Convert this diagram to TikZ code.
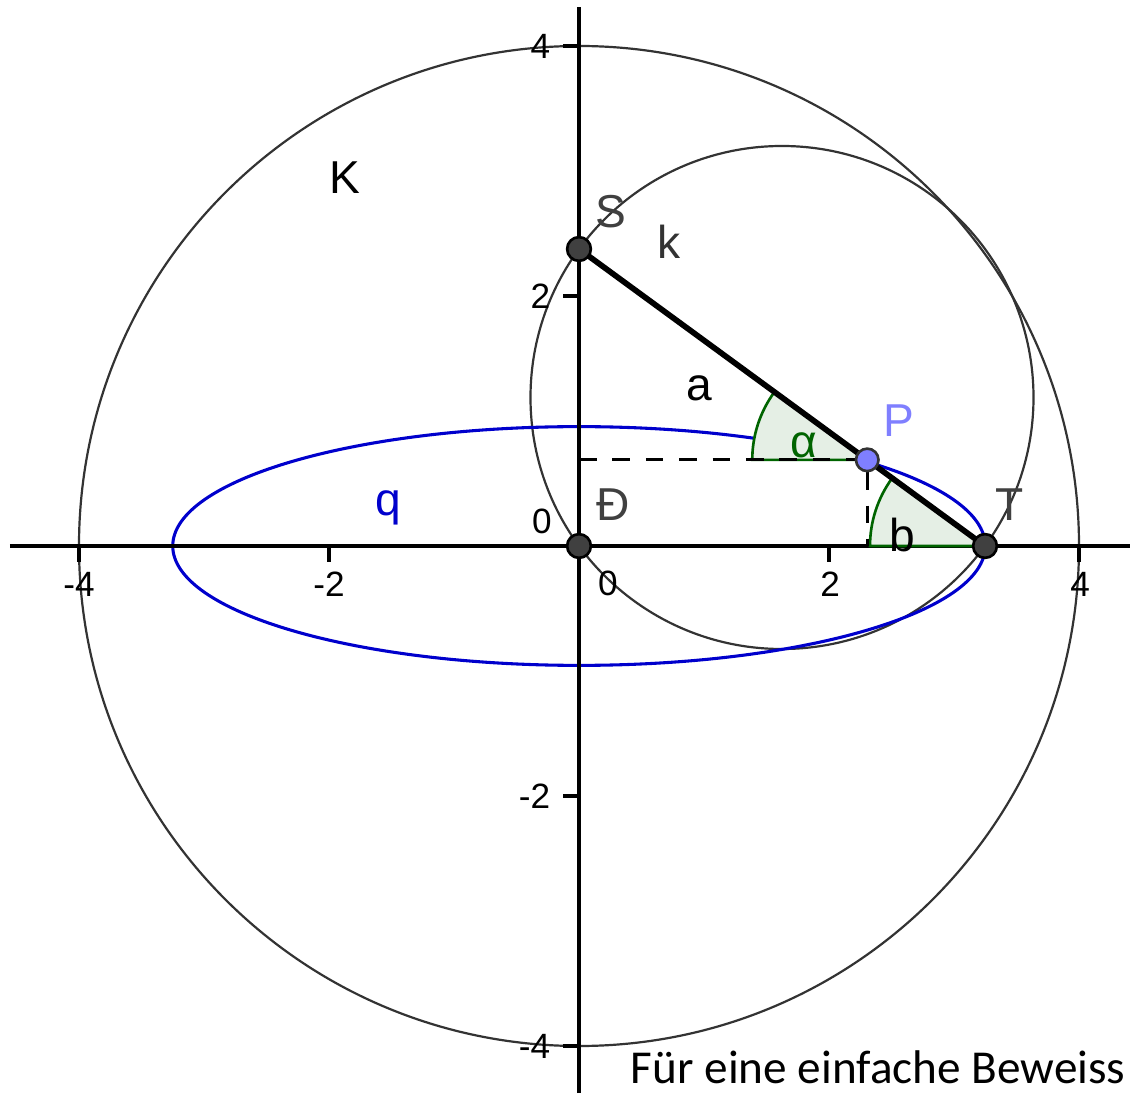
\documentclass[tikz,border=0pt]{standalone}
\usepackage{fontspec}
\setmainfont{Liberation Sans}
\newfontfamily\capfont{Carlito}
\usetikzlibrary{arrows, positioning}
\definecolor{qblue}{RGB}{0,0,204}
\definecolor{pblue}{RGB}{127,127,255}
\definecolor{anggreen}{RGB}{0,100,0}
\definecolor{angfill}{RGB}{229,239,229}
\definecolor{ptgrey}{RGB}{64,64,64}

\begin{document}
\begin{tikzpicture}[
    pt/.style={circle, draw=black, fill=ptgrey, line width=0.6pt, minimum size=0.19cm, inner sep=0pt},
    lbl/.style={inner sep=0pt, font=\fontsize{10.5}{12}\selectfont},
    ticklbl/.style={inner sep=0pt, font=\fontsize{8}{9}\selectfont},
    circ/.style={draw=black!80, line width=0.5pt},
    ang/.style={draw=anggreen, fill=angfill, line width=0.6pt},
    axis/.style={line width=0.9pt},
    tick/.style={line width=0.8pt}
]
    \useasboundingbox (-4.632,-4.376) rectangle (4.408,4.368);

    % Points of the ladder
    \coordinate (O) at (0, 0);
    \coordinate (S) at (0, 2.376);
    \coordinate (T) at (3.248, 0);
    \coordinate (P) at (2.306, 0.689);
    \coordinate (Py) at (0, 0.689);
    \coordinate (Px) at (2.306, 0);

    % Circles K and k
    \draw[circ] (O) circle (4);
    \draw[circ] (1.624, 1.188) circle (2.012);

    % Ellipse q
    \draw[qblue, line width=0.7pt] (O) ellipse (3.25 and 0.955);

    % Axes
    \coordinate (xl) at (-4.552, 0);
    \coordinate (xr) at (4.408, 0);
    \coordinate (yb) at (0, -4.376);
    \coordinate (yt) at (0, 4.312);
    \draw[axis] (xl) -- (xr);
    \draw[axis] (yb) -- (yt);

    \draw[tick] (-4, 0) -- (-4, -0.13);
    \draw[tick] (-2, 0) -- (-2, -0.13);
    \draw[tick] (2, 0) -- (2, -0.13);
    \draw[tick] (4, 0) -- (4, -0.13);
    \draw[tick] (0, -4) -- (-0.13, -4);
    \draw[tick] (0, -2) -- (-0.13, -2);
    \draw[tick] (0, 2) -- (-0.13, 2);
    \draw[tick] (0, 4) -- (-0.13, 4);

    \node[ticklbl, anchor=north] (xm4) at (-4, -0.2) {-4};
    \node[ticklbl, anchor=north] (xm2) at (-2, -0.2) {-2};
    \node[ticklbl, anchor=north] (x2) at (2.01, -0.2) {2};
    \node[ticklbl, anchor=north] (x4) at (4.01, -0.2) {4};
    \node[ticklbl, anchor=east] (ym4) at (-0.224, -4) {-4};
    \node[ticklbl, anchor=east] (ym2) at (-0.224, -2) {-2};
    \node[ticklbl, anchor=east] (y2) at (-0.224, 2) {2};
    \node[ticklbl, anchor=east] (y4) at (-0.224, 4) {4};
    \node[ticklbl] (y0) at (-0.296, 0.2) {0};
    \node[ticklbl] (x0) at (0.232, -0.296) {0};

    % Angles
    \draw[ang] (P) -- ++(180:0.92) arc[start angle=180, end angle=143.81, radius=0.92] -- cycle;
    \draw[ang] (T) -- ++(180:0.92) arc[start angle=180, end angle=143.81, radius=0.92] -- cycle;

    % Projections of P
    \draw[dash pattern=on 4pt off 3.6pt, line width=0.65pt] (Py) -- (P) -- (Px);

    % Ladder
    \draw[line width=1.3pt] (S) -- (T);

    \node[pt] (Odot) at (O) {};
    \node[pt] (Sdot) at (S) {};
    \node[pt] (Tdot) at (T) {};
    \node[pt, fill=pblue, draw=black!80, minimum size=0.18cm] (Pdot) at (P) {};

    % Labels
    \node[lbl] (Klbl) at (-1.872, 2.944) {K};
    \node[lbl, black!80] (klbl) at (0.72, 2.432) {k};
    \node[lbl, black!75] (Slbl) at (0.256, 2.672) {S};
    \node[lbl] (albl) at (0.96, 1.264) {a};
    \node[lbl, anggreen] (alphalbl) at (1.8, 0.808) {α};
    \node[lbl, pblue] (Plbl) at (2.56, 1.0) {P};
    \node[lbl] (blbl) at (2.584, 0.088) {b};
    \node[lbl, black!75] (Tlbl) at (3.448, 0.328) {T};
    \node[lbl, black!75] (Olbl) at (0.272, 0.328) {Ð};
    \node[lbl, qblue] (qlbl) at (-1.528, 0.304) {q};

    \node[anchor=base west, inner sep=0pt, font=\capfont\fontsize{10.75}{12}\selectfont] (caption) at (0.408, -4.296) {Für eine einfache Beweiss};
\end{tikzpicture}
\end{document}
